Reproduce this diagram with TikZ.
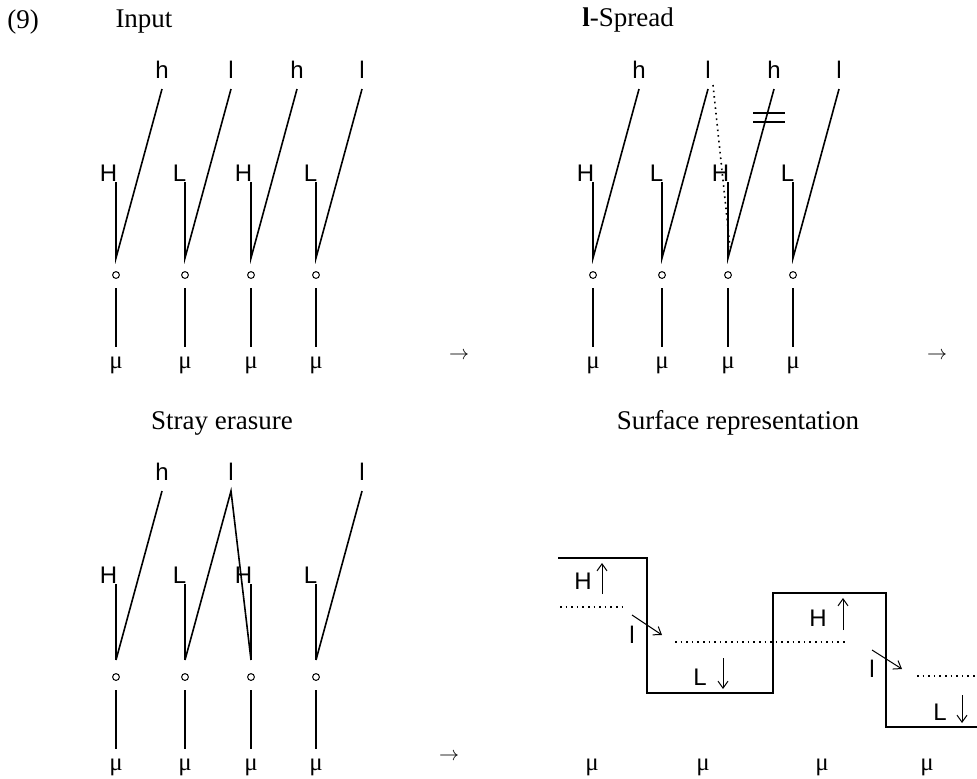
\documentclass[tikz,border=0pt]{standalone}
\usepackage{fontspec}
\setmainfont{Liberation Serif}
\setsansfont{Liberation Sans}
\usetikzlibrary{arrows.meta,positioning}

\tikzset{
  title/.style={font=\fontsize{13.5}{15}\selectfont},
  tone/.style={font=\sffamily\fontsize{12}{13}\selectfont,inner sep=0pt},
  lab/.style={font=\sffamily\fontsize{12}{13}\selectfont,inner sep=0pt,anchor=south east},
  tbu/.style={circle,draw,line width=0.5pt,inner sep=0pt,minimum size=3.4pt},
  mora/.style={font=\fontsize{12.5}{14}\selectfont,inner sep=0pt},
  surf/.style={line width=0.9pt},
}

\begin{document}
\begin{tikzpicture}[x=0.5pt,y=-0.5pt,line width=0.8pt,>={Straight Barb[length=3.5pt,width=5pt]}]
  \useasboundingbox (0,0) rectangle (977,778);
  % input
  \node[title] (n9) at (23,22) {(9)};
  \node[title] (a-title) at (144,22) {Input};
  \foreach \i/\x/\t/\T in {1/116/h/H,2/185/l/L,3/251/h/H,4/316/l/L}{
    \coordinate (a-v\i) at (\x,258);
    \coordinate (a-p\i) at (\x+46,89);
    \node[tone,above=5pt of a-p\i] (a-t\i) {\t};
    \node[lab] (a-L\i) at (\x+2,182) {\T};
    \draw (a-L\i.south -| a-v\i) -- (a-v\i) -- (a-p\i);
    \node[tbu] (a-o\i) at (\x,275) {};
    \node[mora] (a-m\i) at (\x,365) {μ};
    \draw (a-o\i) ++(0,13) -- ++(0,59);
  }
  \node (a-arr) at (459,356) {$\rightarrow$};
  % l-spread
  \begin{scope}[shift={(477,0)}]
    \node[title] (b-title) at (151,20) {\textbf{l}-Spread};
    \foreach \i/\x/\t/\T in {1/116/h/H,2/185/l/L,3/251/h/H,4/316/l/L}{
      \coordinate (b-v\i) at (\x,258);
      \coordinate (b-p\i) at (\x+46,89);
      \node[tone,above=5pt of b-p\i] (b-t\i) {\t};
      \node[lab] (b-L\i) at (\x+2,182) {\T};
      \draw (b-L\i.south -| b-v\i) -- (b-v\i) -- (b-p\i);
      \node[tbu] (b-o\i) at (\x,275) {};
      \node[mora] (b-m\i) at (\x,365) {μ};
      \draw (b-o\i) ++(0,13) -- ++(0,59);
    }
    \draw[dotted,line width=0.8pt] ([shift={(5,-4)}]b-p2) -- ([shift={(2,-11)}]b-v3);
    \draw (276,113) -- (308,113) (276,122) -- (308,122);
    \node (b-arr) at (460,356) {$\rightarrow$};
  \end{scope}
  % stray erasure
  \begin{scope}[shift={(0,402)}]
    \node[title] (c-title) at (222,21) {Stray erasure};
    \foreach \i/\x/\T in {1/116/H,2/185/L,3/251/H,4/316/L}{
      \coordinate (c-v\i) at (\x,258);
      \coordinate (c-p\i) at (\x+46,89);
      \node[lab] (c-L\i) at (\x+2,182) {\T};
      \draw (c-L\i.south -| c-v\i) -- (c-v\i);
      \node[tbu] (c-o\i) at (\x,275) {};
      \node[mora] (c-m\i) at (\x,365) {μ};
      \draw (c-o\i) ++(0,13) -- ++(0,59);
    }
    \node[tone,above=5pt of c-p1] (c-t1) {h};
    \node[tone,above=5pt of c-p2] (c-t2) {l};
    \node[tone,above=5pt of c-p4] (c-t4) {l};
    \draw (c-v1) -- (c-p1);
    \draw (c-v2) -- (c-p2) -- (c-v3);
    \draw (c-v4) -- (c-p4);
    \node (c-arr) at (449,355) {$\rightarrow$};
  \end{scope}
  % surface
  \node[title] (d-title) at (738,423) {Surface representation};
  \draw[surf] (558,558) -| (647,693) -| (773,593) -| (886,727) -- (977,727);
  \draw[dotted,line width=0.8pt] (560,607) -- (622,607) (675,642) -- (848,642) (917,676) -- (977,676);
  \node[tone] (d-H1) at (583,581) {H};
  \node[tone] (d-l1) at (632,635) {l};
  \node[tone] (d-L1) at (700,677) {L};
  \node[tone] (d-H2) at (818,618) {H};
  \node[tone] (d-l2) at (872,669) {l};
  \node[tone] (d-L2) at (940,712) {L};
  \draw[->,line width=0.5pt] (d-H1) ++(19,13) -- ++(0,-31);
  \draw[->,line width=0.5pt] (d-l1) ++(0,-20) -- ++(30,20);
  \draw[->,line width=0.5pt] (d-L1) ++(23,-19) -- ++(0,31);
  \draw[->,line width=0.5pt] (d-H2) ++(25,12) -- ++(0,-32);
  \draw[->,line width=0.5pt] (d-l2) ++(0,-19) -- ++(30,19);
  \draw[->,line width=0.5pt] (d-L2) ++(22,-17) -- ++(0,28);
  \foreach \i/\x in {1/592,2/703,3/822,4/927}
    \node[mora] (d-m\i) at (\x,767) {μ};
\end{tikzpicture}
\end{document}
